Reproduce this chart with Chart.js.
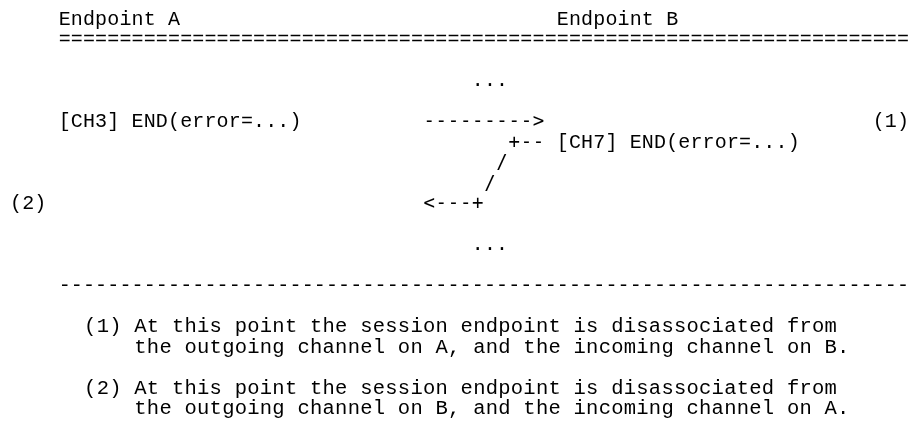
<!DOCTYPE html>
<html>
<head>
<meta charset="utf-8">
<script src="https://cdn.jsdelivr.net/npm/chart.js@4/dist/chart.umd.min.js"></script>
<style>
  html, body { margin: 0; padding: 0; background: #fff; }
  #wrap { width: 912px; height: 421px; position: relative; }
</style>
</head>
<body>
<div id="wrap"><canvas id="diagram"></canvas></div>
<script>
// texte "machine a ecrire" (serif) : texte, colonne, ligne
const serifText = [
    'Endpoint A',
    'Endpoint B',
    '='.repeat(70),
    '[CH3] END(error=...)',
    '(1)',
    '[CH7] END(error=...)',
    '(2)',
    '-'.repeat(70)
];
const serifCol = [4, 45, 4, 4, 71, 45, 0, 4];
const serifRow = [0, 0, 1, 5, 5, 6, 9, 13];

// fleches et points du milieu (sans serif)
const sansText = ['...', '--------->', '+--', '/', '/', '<---+', '...'];
const sansCol = [38, 34, 41, 40, 39, 34, 38];
const sansRow = [3, 5, 6, 7, 8, 9, 11];

// notes en bas (grille un peu plus large)
const noteText = [
    '(1) At this point the session endpoint is disassociated from',
    'the outgoing channel on A, and the incoming channel on B.',
    '(2) At this point the session endpoint is disassociated from',
    'the outgoing channel on B, and the incoming channel on A.'
];
const noteCol = [0, 4, 0, 4];
const noteRow = [15, 16, 18, 19];

// grille (px)
const CHAR_W = 12.15;
const NOTE_W = 12.55;
const LINE_H = 20.5;
const LEFT = 10;
const NOTE_LEFT = 84;
const TOP = 24.5;
const W = 912, H = 421;

function toPoints(cols, rows) {
    let pts = [];
    for (let i = 0; i < cols.length; i++) {
        pts.push({ x: cols[i], y: rows[i] });
    }
    return pts;
}

const textPlugin = {
    id: 'asciiText',
    afterDatasetsDraw(chart) {
        const ctx = chart.ctx;
        const ys = chart.scales.y;
        chart.data.datasets.forEach((ds) => {
            const xs = chart.scales[ds.xAxisID || 'x'];
            ctx.save();
            ctx.fillStyle = '#000';
            ctx.font = ds.font;
            ctx.textAlign = 'center';
            ctx.textBaseline = 'alphabetic';
            ds.data.forEach((p, i) => {
                const str = ds.labels[i];
                const y = ys.getPixelForValue(p.y);
                for (let k = 0; k < str.length; k++) {
                    if (str[k] === ' ') continue;
                    const x = xs.getPixelForValue(p.x + k + 0.5);
                    ctx.fillText(str[k], x, y);
                }
            });
            ctx.restore();
        });
    }
};

window.addEventListener('load', () => {
    const context = document.getElementById('diagram').getContext('2d');
    new Chart(context, {
        type: 'scatter',
        data: {
            datasets: [{
                data: toPoints(serifCol, serifRow),
                labels: serifText,
                font: '20px "Liberation Mono"',
                pointRadius: 0
            }, {
                data: toPoints(sansCol, sansRow),
                labels: sansText,
                font: '19px "DejaVu Sans Mono"',
                pointRadius: 0
            }, {
                data: toPoints(noteCol, noteRow),
                labels: noteText,
                font: '20.5px "Liberation Mono"',
                xAxisID: 'xf',
                pointRadius: 0
            }]
        },
        options: {
            responsive: true,
            maintainAspectRatio: false,
            animation: false,
            layout: { padding: 0 },
            plugins: {
                legend: { display: false },
                tooltip: { enabled: false }
            },
            scales: {
                x: { type: 'linear', display: false, min: -LEFT / CHAR_W, max: (W - LEFT) / CHAR_W },
                xf: { type: 'linear', axis: 'x', display: false, min: -NOTE_LEFT / NOTE_W, max: (W - NOTE_LEFT) / NOTE_W },
                y: { type: 'linear', display: false, reverse: true, min: -TOP / LINE_H, max: (H - TOP) / LINE_H }
            }
        },
        plugins: [textPlugin]
    });
});
</script>
</body>
</html>
